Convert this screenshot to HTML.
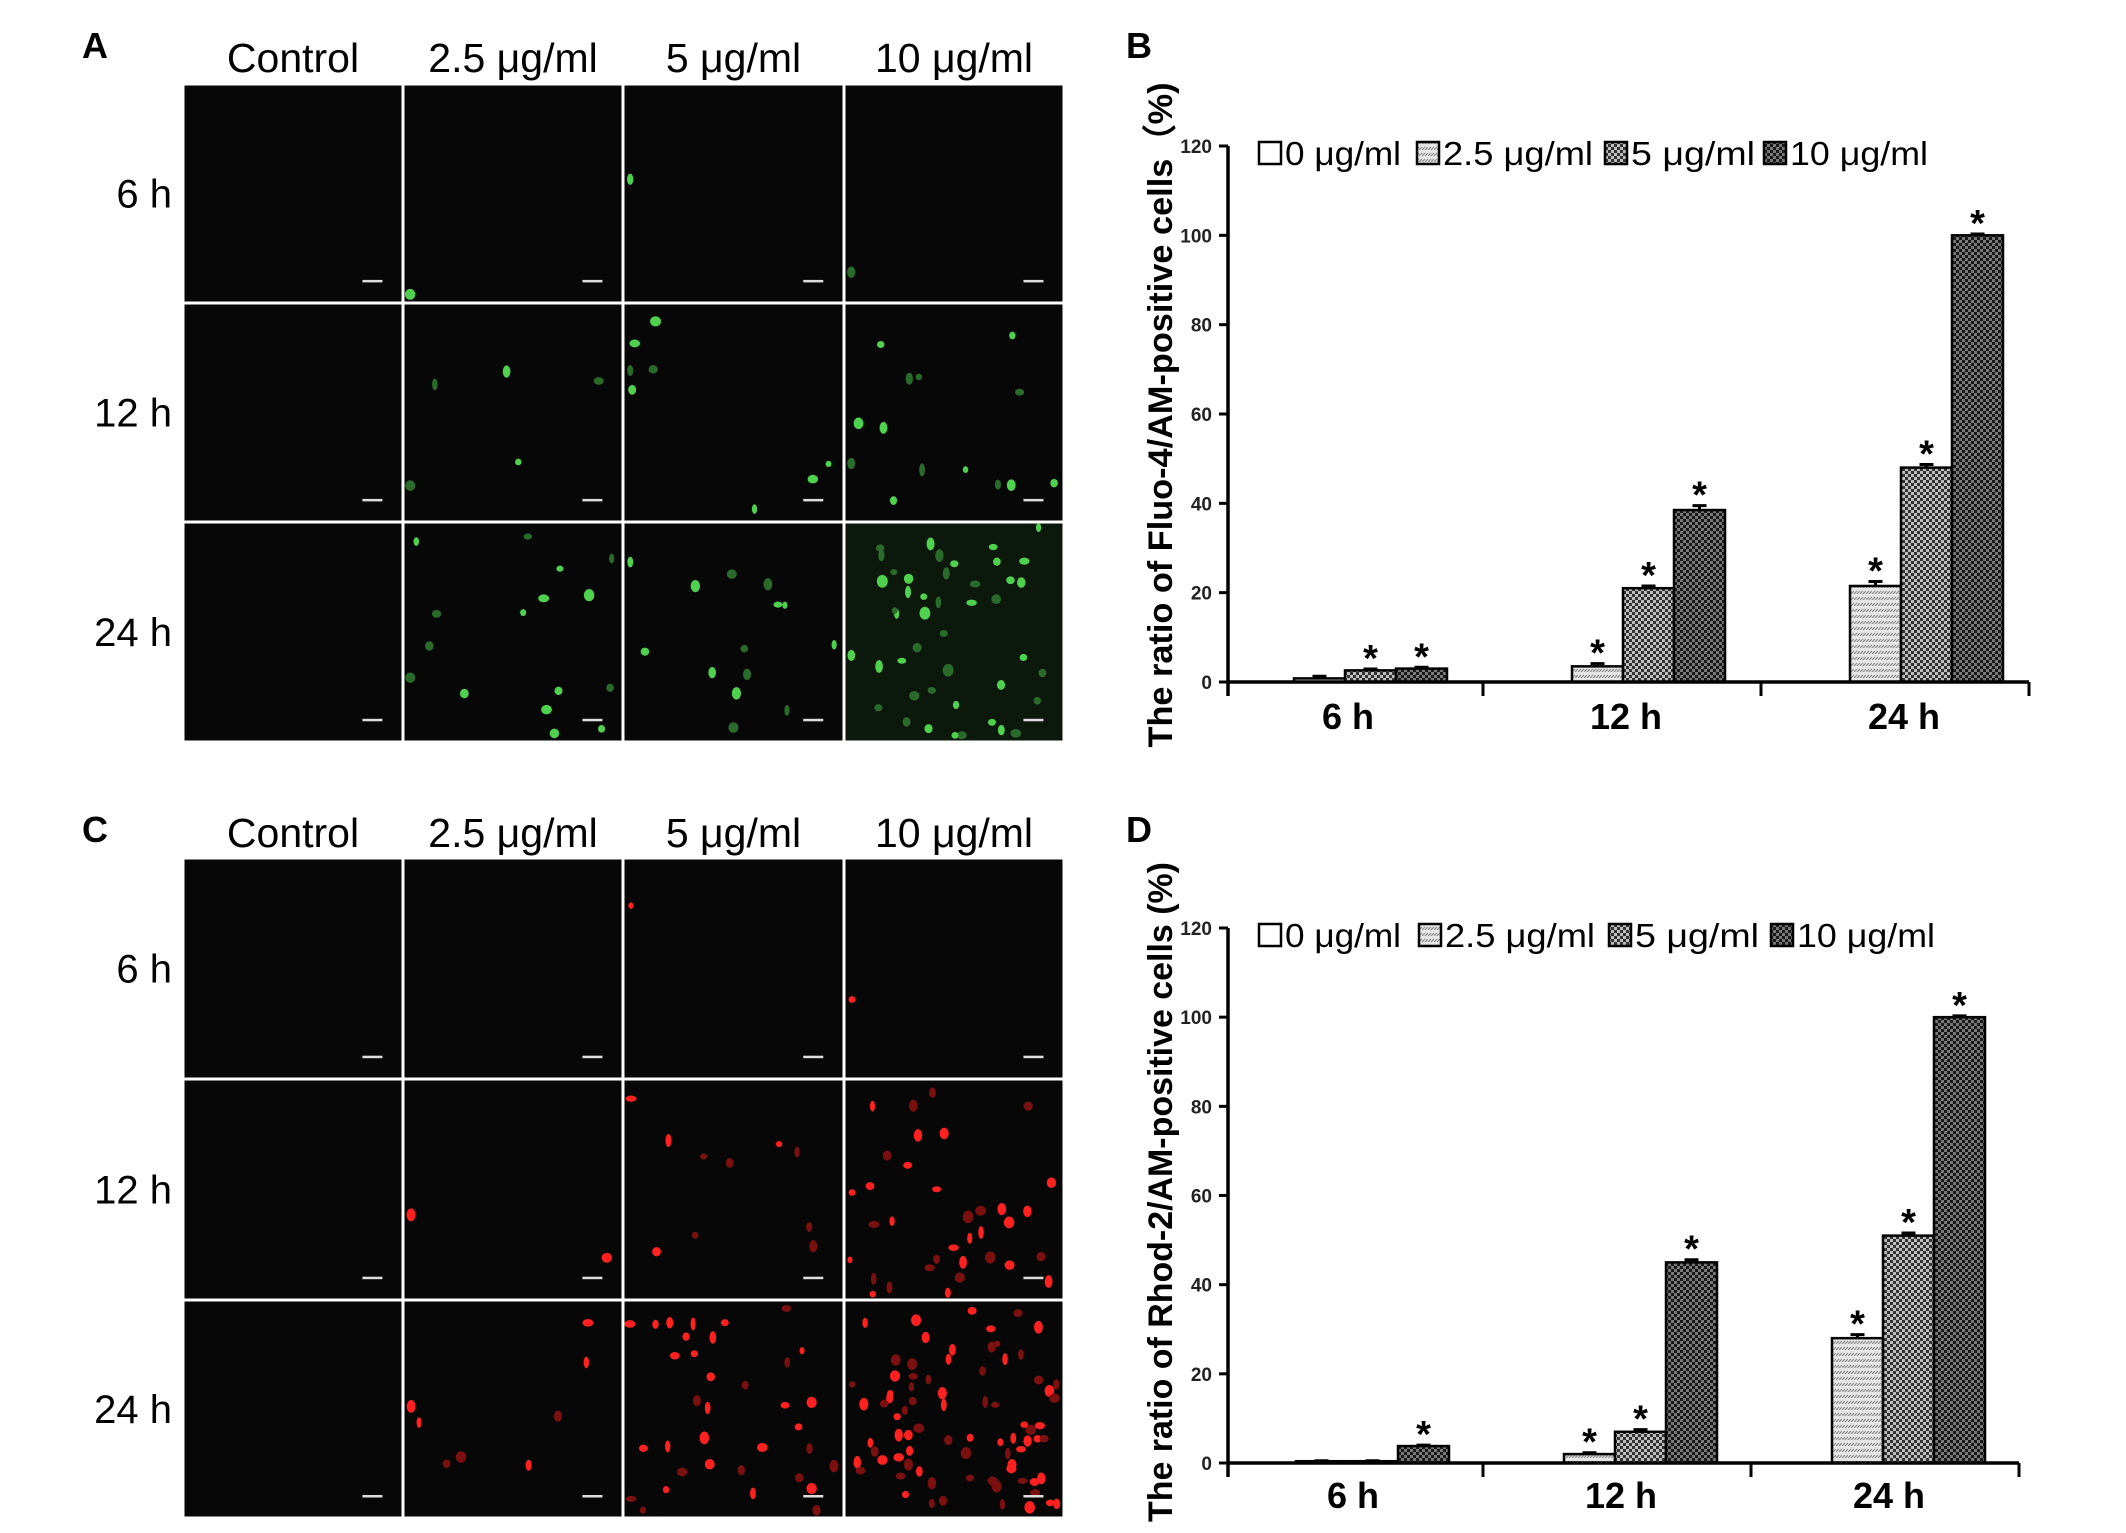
<!DOCTYPE html>
<html><head><meta charset="utf-8">
<style>
html,body{margin:0;padding:0;background:#fff;}
svg{display:block;}
text{font-family:"Liberation Sans",sans-serif;}
</style></head>
<body>
<svg id="fig" xmlns="http://www.w3.org/2000/svg" width="2126" height="1533" viewBox="0 0 2126 1533">
<defs>
  <pattern id="p25" width="6" height="6" patternUnits="userSpaceOnUse">
    <rect width="6" height="6" fill="#e6e6e6"/>
    <path d="M0 6 L3 3 M3 6 L6 3" stroke="#8a8a8a" stroke-width="1.2"/>
  </pattern>
  <pattern id="p5" width="6" height="6" patternUnits="userSpaceOnUse">
    <rect width="6" height="6" fill="#bdbdbd"/>
    <rect x="0" y="0" width="3" height="3" fill="#333"/>
    <rect x="3" y="3" width="3" height="3" fill="#333"/>
  </pattern>
  <pattern id="p10" width="6" height="6" patternUnits="userSpaceOnUse">
    <rect width="6" height="6" fill="#777"/>
    <rect x="0" y="0" width="3" height="3" fill="#1a1a1a"/>
    <rect x="3" y="3" width="3" height="3" fill="#1a1a1a"/>
  </pattern>
</defs>

<text x="82" y="58" font-family="Liberation Serif, serif" font-weight="bold" font-size="36">A</text>
<text x="1126" y="58" font-family="Liberation Serif, serif" font-weight="bold" font-size="36">B</text>
<text x="82" y="842" font-family="Liberation Serif, serif" font-weight="bold" font-size="36">C</text>
<text x="1126" y="842" font-family="Liberation Serif, serif" font-weight="bold" font-size="36">D</text>

<g id="gridA"></g>
<g id="gridC"></g>
<g id="chartB"></g>
<g id="chartD"></g>
</svg>

<script>
const NS = "http://www.w3.org/2000/svg";
// ---- chart data ----
const categories = ["6 h", "12 h", "24 h"];
const seriesNames = ["0 μg/ml", "2.5 μg/ml", "5 μg/ml", "10 μg/ml"];
const yTicks = [0, 20, 40, 60, 80, 100, 120];
const fluoValues = [
  [0, 0, 0],        // 0 μg/ml
  [0.8, 3.5, 21.5], // 2.5 μg/ml
  [2.6, 21, 48],    // 5 μg/ml
  [3.0, 38.5, 100]  // 10 μg/ml
];
const fluoErrors = [
  [0, 0, 0],
  [0.5, 0.6, 1.0],
  [0.3, 0.5, 0.7],
  [0.3, 1.0, 0.3]
];
const fluoStars = [
  [false, false, false],
  [false, true, true],
  [true, true, true],
  [true, true, true]
];
const rhodValues = [
  [0, 0, 0],
  [0.4, 2, 28],
  [0.4, 7, 51],
  [3.8, 45, 100]
];
const rhodErrors = [
  [0, 0, 0],
  [0.1, 0.3, 0.8],
  [0.1, 0.5, 0.6],
  [0.2, 0.6, 0.3]
];
const rhodStars = [
  [false, false, false],
  [false, true, true],
  [false, true, true],
  [true, true, true]
];
const fills = ["#ffffff", "url(#p25)", "url(#p5)", "url(#p10)"];

function mk(tag, attrs, parent) {
  const e = document.createElementNS(NS, tag);
  for (const k in attrs) e.setAttribute(k, attrs[k]);
  parent.appendChild(e);
  return e;
}

function drawChart(gId, cfg, values, errors, stars, title, prefix) {
  const g = document.getElementById(gId);
  const y = v => cfg.y0 - (v / 120) * (cfg.y0 - cfg.y120);
  const bandX = i => cfg.bandStart + i * cfg.band;
  const barX = (i, s) => bandX(i) + cfg.offset + s * cfg.barW;

  for (let s = 0; s < seriesNames.length; s++) {
    for (let i = 0; i < categories.length; i++) {
      const v = values[s][i];
      const r = mk("rect", {x: barX(i, s), y: y(v), width: cfg.barW, height: cfg.y0 - y(v),
        fill: fills[s], stroke: "#000", "stroke-width": 2.5}, g);
      
      
      const e = errors[s][i];
      if (e > 0) {
        const cx = barX(i, s) + cfg.barW / 2;
        const el = mk("path", {d: `M${cx} ${y(v)} V${y(v + e)} M${cx - 7} ${y(v + e)} H${cx + 7}`,
          stroke: "#000", "stroke-width": 3, fill: "none"}, g);
        
        
      }
      if (stars[s][i]) {
        const st = mk("text", {x: barX(i, s) + cfg.barW / 2, y: y(v + e) + 14 - 12, "text-anchor": "middle",
          "font-size": 38, "font-weight": "bold"}, g);
        st.textContent = "*";
        
        
      }
    }
  }
  const ax = mk("path", {d: `M${cfg.axisX} ${cfg.y120} V${cfg.y0 + 14} M${cfg.axisX} ${cfg.y0} H${cfg.axisEnd}`,
    stroke: "#000", "stroke-width": 3.5, fill: "none"}, g);
  
  
  for (let i = 1; i <= categories.length; i++) {
    const tx = i < categories.length ? bandX(i) : cfg.axisEnd;
    const t = mk("line", {x1: tx, x2: tx, y1: cfg.y0, y2: cfg.y0 + 14, stroke: "#000", "stroke-width": 3}, g);
    
    
  }
  yTicks.forEach(v => {
    const t = mk("line", {x1: cfg.axisX - 9, x2: cfg.axisX, y1: y(v), y2: y(v), stroke: "#000", "stroke-width": 3}, g);
    
    
    const l = mk("text", {x: cfg.axisX - 16, y: y(v) + 7, "text-anchor": "end", "font-size": 19, "font-weight": "bold", fill: "#222"}, g);
    l.textContent = v;
    
    
  });
  categories.forEach((c, i) => {
    const l = mk("text", {x: bandX(i) + cfg.band / 2 + 4, y: cfg.labelY, "text-anchor": "middle", "font-size": 36, "font-weight": "bold"}, g);
    l.textContent = c;
    
    
  });
  const tt = mk("text", {x: 0, y: 0, "text-anchor": "middle", "font-size": 34, "font-weight": "bold",
    transform: `translate(${cfg.titleX},${cfg.titleY}) rotate(-90)`, textLength: cfg.titleLen, lengthAdjust: "spacingAndGlyphs"}, g);
  tt.textContent = title;
  
  
  const lg = mk("g", {}, g);
  
  
  seriesNames.forEach((n, s) => {
    const lx = cfg.legendX[s];
    const b = mk("rect", {x: lx, y: cfg.legendY - 11, width: 22, height: 22, fill: fills[s], stroke: "#000", "stroke-width": 2.5}, lg);
    
    
    const t = mk("text", {x: lx + 26, y: cfg.legendY + 12, "font-size": 33, textLength: cfg.legendW[s], lengthAdjust: "spacingAndGlyphs"}, lg);
    t.textContent = n;
    
    
  });
}

drawChart("chartB", {y0: 682, y120: 146, axisX: 1228, axisEnd: 2029, bandStart: 1205, band: 278, offset: 38, barW: 51,
  labelY: 729, titleX: 1172, titleY: 415, titleLen: 665, legendX: [1259, 1417, 1605, 1764], legendY: 153,
  legendW: [116, 150, 124, 138]},
  fluoValues, fluoErrors, fluoStars, "The ratio of Fluo-4/AM-positive cells（%)", "fluo");
drawChart("chartD", {y0: 1463, y120: 928, axisX: 1228, axisEnd: 2019, bandStart: 1215, band: 268, offset: 30, barW: 51,
  labelY: 1508, titleX: 1172, titleY: 1192, titleLen: 660, legendX: [1259, 1419, 1609, 1771], legendY: 935,
  legendW: [116, 150, 124, 138]},
  rhodValues, rhodErrors, rhodStars, "The ratio of Rhod-2/AM-positive cells (%)", "rhod");

// ---- microscopy grids (decorative) ----
const colHeads = ["Control", "2.5 μg/ml", "5 μg/ml", "10 μg/ml"];
const rowHeads = ["6 h", "12 h", "24 h"];
const colX = [183, 403, 623, 844, 1064];
function seeded(seed) { let s = seed; return () => { s = (s * 16807) % 2147483647; return s / 2147483647; }; }

function drawGrid(gId, rowY, headY, color, bright, counts, bgSpecial, prefix) {
  const g = document.getElementById(gId);
  colHeads.forEach((h, c) => {
    const t = mk("text", {x: (colX[c] + colX[c + 1]) / 2, y: headY, "text-anchor": "middle", "font-size": 41}, g);
    t.textContent = h;
    
    
  });
  rowHeads.forEach((h, r) => {
    const t = mk("text", {x: 172, y: (rowY[r] + rowY[r + 1]) / 2 + 14, "text-anchor": "end", "font-size": 40}, g);
    t.textContent = h;
    
    
    for (let c = 0; c < 4; c++) {
      const x0 = colX[c] + 1.5, y0 = rowY[r] + 1.5, w = colX[c + 1] - colX[c] - 3, hh = rowY[r + 1] - rowY[r] - 3;
      const bg = (r === 2 && c === 3 && bgSpecial) ? bgSpecial : "#070707";
      const cell = mk("rect", {x: x0, y: y0, width: w, height: hh, fill: bg}, g);
      
      
      const rnd = seeded(1000 + r * 37 + c * 11 + (prefix === "red" ? 500 : 0));
      const n = counts[r][c];
      for (let k = 0; k < n; k++) {
        const d = mk("ellipse", {cx: x0 + 4 + rnd() * (w - 8), cy: y0 + 4 + rnd() * (hh - 8),
          rx: 2.5 + rnd() * 3, ry: 3 + rnd() * 3.5, fill: rnd() > 0.4 ? bright : color}, g);
        
        
      }
      const sb = mk("rect", {x: x0 + w * 0.82, y: y0 + hh * 0.9, width: 20, height: 2.5, fill: "#ddd"}, g);
      
      
    }
  });
}
drawGrid("gridA", [84, 303, 522, 742], 72, "#2a6a2a", "#4fd04f",
  [[0, 1, 1, 1], [0, 5, 8, 14], [0, 16, 14, 45]], "#0c180c", "green");
drawGrid("gridC", [858, 1079, 1300, 1518], 847, "#7a1010", "#ff2020",
  [[0, 0, 1, 1], [0, 2, 10, 35], [0, 8, 35, 80]], null, "red");
</script>
</body></html>
